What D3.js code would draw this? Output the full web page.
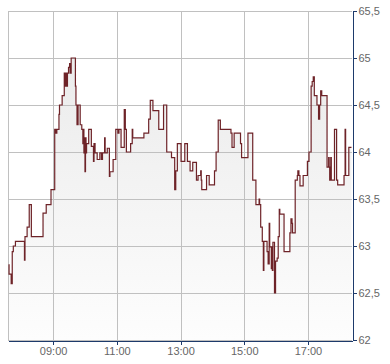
<!DOCTYPE html>
<html>
<head>
<meta charset="utf-8">
<script src="https://cdn.jsdelivr.net/npm/d3@7"></script>
<style>
  html, body { margin: 0; padding: 0; background: #fff; }
  svg { display: block; }
  .tick text { font-family: "Liberation Sans", Arial, sans-serif; font-size: 11px; fill: #666; }
</style>
</head>
<body>
<svg id="chart" width="390" height="364"></svg>
<script>
const times = ["07:36","07:37","07:41","07:43","07:45","07:49","08:06","08:07","08:11","08:15","08:19","08:41","08:47","08:56",
"09:03","09:05","09:07","09:11","09:12","09:17","09:21","09:22","09:24","09:26","09:27","09:29","09:31","09:32","09:34",
"09:42","09:43","09:45","09:47","09:51","09:54","09:56","09:57","09:58","09:59","10:00","10:01","10:02","10:03","10:07",
"10:12","10:16","10:17","10:19","10:23","10:28","10:31","10:33","10:37","10:38","10:42","10:46","10:47","10:53","10:58",
"11:02","11:04","11:08","11:14","11:16","11:18","11:26","11:29","11:30","11:51","12:00","12:03","12:08","12:19","12:28",
"12:34","12:43","12:49","12:51","12:54","13:01","13:08","13:13","13:18","13:23","13:30","13:33","13:38","13:39","13:40",
"13:49","13:54","14:04","14:07","14:11","14:15","14:35","14:37","14:41","14:53","14:55","15:07","15:16","15:22","15:28",
"15:29","15:31","15:34","15:36","15:37","15:43","15:45","15:47","15:48","15:51","15:52","15:53","15:54","15:57","15:59",
"16:02","16:04","16:06","16:07","16:15","16:26","16:28","16:30","16:31","16:36","16:40","16:41","16:43","16:45","16:51",
"16:59","17:02","17:06","17:08","17:10","17:12","17:17","17:20","17:22","17:24","17:26","17:36","17:39","17:40","17:41",
"17:43","17:44","17:50","17:54","17:56","18:08","18:10","18:11","18:17","18:22"];
const prices = [62.80,62.70,62.60,62.94,63.00,63.05,62.85,63.10,63.20,63.44,63.10,63.35,63.44,63.60,
64.24,64.20,64.24,64.40,64.50,64.60,64.84,64.70,64.84,64.70,64.84,64.90,64.94,64.84,65.00,
64.70,64.50,64.29,64.50,64.29,64.24,64.09,64.24,63.99,64.15,63.79,64.15,63.99,64.09,64.24,
64.06,63.90,64.09,63.99,63.92,63.99,63.92,63.99,64.15,63.99,64.04,63.74,63.79,63.92,64.24,
64.20,64.24,64.05,64.45,64.24,64.00,64.09,64.24,64.15,64.20,64.35,64.55,64.44,64.24,64.50,
64.00,63.94,63.60,63.80,64.09,63.90,64.09,63.90,63.80,63.89,63.70,63.75,63.80,63.70,63.60,
63.75,63.65,63.80,64.00,64.34,64.24,64.20,64.05,64.20,64.09,63.94,64.20,63.70,63.44,63.50,
63.44,63.20,63.05,62.74,63.05,62.94,62.81,63.24,62.99,62.76,62.99,62.74,63.04,62.50,62.84,
62.87,63.10,63.39,63.34,62.94,63.14,63.29,63.24,63.14,63.70,63.75,63.80,63.75,63.64,63.75,
63.90,64.00,64.70,64.75,64.80,64.60,64.50,64.35,64.50,64.65,64.60,63.84,63.94,63.84,63.70,
63.94,63.70,64.24,63.70,63.65,63.75,64.24,63.75,64.05,64.05];
const xTickLabels = ["09:00","11:00","13:00","15:00","17:00"];
const yTickValues = [62, 62.5, 63, 63.5, 64, 64.5, 65, 65.5];
const xDomainLabels = ["07:35","18:23"];

const parse = d3.timeParse("%H:%M");
const data = times.map((t, i) => ({ t: parse(t), v: prices[i] }));

const mLeft = 8, mRight = 352, mTop = 11, mBottom = 340;
const svg = d3.select("#chart");

const x = d3.scaleTime().domain(xDomainLabels.map(parse)).range([mLeft, mRight]);
const y = d3.scaleLinear().domain([62, 65.5]).range([mBottom, mTop]);

const defs = svg.append("defs");
const grad = defs.append("linearGradient").attr("id", "fillGrad")
  .attr("gradientUnits", "userSpaceOnUse").attr("x1", 0).attr("x2", 0).attr("y1", mTop).attr("y2", mBottom);
grad.append("stop").attr("offset", "0%").attr("stop-color", "#e8e8e8");
grad.append("stop").attr("offset", "100%").attr("stop-color", "#fdfdfd");

const area = d3.area().curve(d3.curveStepAfter)
  .x(d => x(d.t)).y0(y(62)).y1(d => y(d.v));
svg.append("path").datum(data).attr("d", area).attr("fill", "url(#fillGrad)");

// grid
const grid = svg.append("g").attr("stroke", "#c0c0c0").attr("stroke-width", 1).attr("shape-rendering", "crispEdges");
yTickValues.forEach(v => {
  const yy = Math.round(y(v)) + 0.5;
  grid.append("line").attr("x1", mLeft).attr("x2", mRight).attr("y1", yy).attr("y2", yy);
});
xTickLabels.map(parse).forEach(t => {
  const xx = Math.round(x(t)) + 0.5;
  grid.append("line").attr("x1", xx).attr("x2", xx).attr("y1", mTop).attr("y2", mBottom);
});
grid.append("line").attr("x1", mLeft + 0.5).attr("x2", mLeft + 0.5).attr("y1", mTop).attr("y2", mBottom);

const line = d3.line().curve(d3.curveStepAfter).x(d => x(d.t)).y(d => y(d.v));
svg.append("path").datum(data).attr("d", line)
  .attr("fill", "none").attr("stroke", "#6e2328").attr("stroke-width", 1.2);

// axes
const yAxis = d3.axisRight(y).tickValues(yTickValues).tickSize(4).tickSizeOuter(0).tickPadding(2)
  .tickFormat(d => String(d).replace(".", ","));
const gy = svg.append("g").attr("transform", `translate(${mRight + 0.5},0)`).call(yAxis);
gy.select(".domain").attr("stroke", "#1d3a6b").attr("shape-rendering", "crispEdges");
gy.selectAll(".tick line").attr("stroke", "#1d3a6b").attr("shape-rendering", "crispEdges");

const xAxis = d3.axisBottom(x).tickValues(xTickLabels.map(parse)).tickSize(4).tickSizeOuter(0).tickPadding(3)
  .tickFormat(d3.timeFormat("%H:%M"));
const gx = svg.append("g").attr("transform", `translate(0,${mBottom + 0.5})`).call(xAxis);
gx.select(".domain").attr("stroke", "#1d3a6b").attr("shape-rendering", "crispEdges");
gx.selectAll(".tick line").attr("stroke", "#1d3a6b").attr("shape-rendering", "crispEdges");
</script>
</body>
</html>
